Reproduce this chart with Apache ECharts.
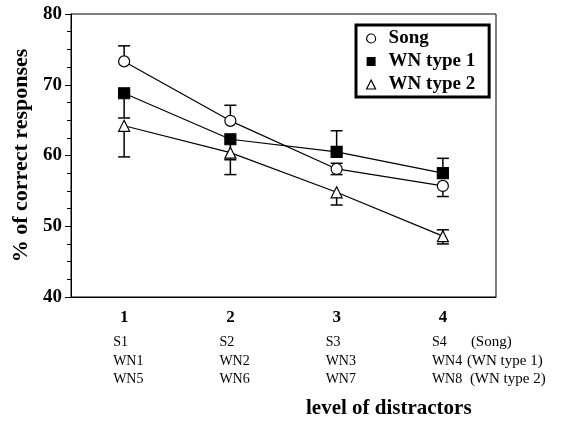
<!DOCTYPE html>
<html><head><meta charset="utf-8">
<script src="https://cdn.jsdelivr.net/npm/echarts@6/dist/echarts.min.js"></script>
<style>html,body{margin:0;padding:0;background:#fff}#c{width:566px;height:424px}</style>
</head><body><div id="c"></div>
<script>
const categories = ['1', '2', '3', '4'];
const subLabelsSong = ['S1', 'S2', 'S3', 'S4'];
const subLabelsWN1 = ['WN1', 'WN2', 'WN3', 'WN4'];
const subLabelsWN2 = ['WN5', 'WN6', 'WN7', 'WN8'];
const rowNotes = ['(Song)', '(WN type 1)', '(WN type 2)'];
const song = [73.3, 64.9, 58.1, 55.7];
const wn1 = [68.8, 62.3, 60.5, 57.5];
const wn2 = [64.2, 60.4, 54.8, 48.6];
const songErrUp = [2.2, 2.2, 0.8, 0];
const songErrDown = [0, 0, 0.8, 1.5];
const wn1ErrUp = [0, 0, 3.0, 2.1];
const wn1ErrDown = [3.5, 2.9, 0, 0];
const wn2ErrUp = [0, 0, 0, 0.9];
const wn2ErrDown = [4.4, 3.1, 1.8, 1.1];
const yTicks = [40, 50, 60, 70, 80];

const FONT = '"Liberation Serif", "Times New Roman", serif';

function errData(vals, up, down) {
  return vals.map((v, i) => [i, v - down[i], v + up[i]]);
}
function errSeries(vals, up, down) {
  return {
    type: 'custom', silent: true, z: 1,
    data: errData(vals, up, down),
    renderItem: function (params, api) {
      const x = api.value(0);
      const lo = api.coord([x, api.value(1)]);
      const hi = api.coord([x, api.value(2)]);
      const w = 6;
      const children = [];
      const style = { stroke: '#000', lineWidth: 1.5 };
      if (Math.abs(lo[1] - hi[1]) < 0.5) return { type: 'group', children: [] };
      children.push({ type: 'line', shape: { x1: lo[0], y1: lo[1], x2: hi[0], y2: hi[1] }, style });
      if (api.value(1) < vals[params.dataIndex] - 0.01)
        children.push({ type: 'line', shape: { x1: lo[0] - w, y1: lo[1], x2: lo[0] + w, y2: lo[1] }, style });
      if (api.value(2) > vals[params.dataIndex] + 0.01)
        children.push({ type: 'line', shape: { x1: hi[0] - w, y1: hi[1], x2: hi[0] + w, y2: hi[1] }, style });
      return { type: 'group', children };
    }
  };
}
function lineSeries(name, vals, symbol, fill, size) {
  return {
    name, type: 'line', data: vals, symbol, symbolSize: size, z: 3,
    showAllSymbol: true,
    lineStyle: { color: '#000', width: 1.2 },
    itemStyle: { color: fill, borderColor: '#000', borderWidth: 1.2 },
    emphasis: { disabled: true }, animation: false
  };
}

const chart = echarts.init(document.getElementById('c'), null, { renderer: 'canvas' });
chart.setOption({
  animation: false,
  grid: { left: 71, right: 70, top: 14, bottom: 127, show: true, borderColor: '#000', borderWidth: 1, backgroundColor: 'transparent' },
  xAxis: {
    type: 'category', data: categories, boundaryGap: true,
    axisLine: { lineStyle: { color: '#000', width: 1 } },
    axisTick: { alignWithLabel: true, length: 8, lineStyle: { color: '#000', width: 1 } },
    axisLabel: { color: '#000', fontFamily: FONT, fontWeight: 'bold', fontSize: 17, margin: 12 },
    splitLine: { show: false }
  },
  yAxis: {
    type: 'value', min: 40, max: 80, interval: 10,
    name: '% of correct responses', nameLocation: 'middle', nameGap: 34,
    nameTextStyle: { color: '#000', fontFamily: FONT, fontWeight: 'bold', fontSize: 22 },
    axisLine: { show: true, lineStyle: { color: '#000', width: 1 } },
    axisTick: { show: true, length: 6, lineStyle: { color: '#000', width: 1 } },
    minorTick: { show: true, splitNumber: 4, length: 4, lineStyle: { color: '#000', width: 1 } },
    axisLabel: { color: '#000', fontFamily: FONT, fontWeight: 'bold', fontSize: 19, margin: 9,
      formatter: v => yTicks.includes(v) ? String(v) : '' },
    splitLine: { show: false }
  },
  legend: {
    left: 356, top: 25, orient: 'vertical',
    padding: [4, 14, 3, 10], itemGap: 4, itemWidth: 9, itemHeight: 9,
    borderColor: '#000', borderWidth: 3, backgroundColor: '#fff',
    textStyle: { color: '#000', fontFamily: FONT, fontWeight: 'bold', fontSize: 19, padding: [0, 0, 0, 8] },
    data: [
      { name: 'Song', icon: 'circle', itemStyle: { color: '#fff', borderColor: '#000', borderWidth: 1.2 } },
      { name: 'WN type 1', icon: 'rect', itemStyle: { color: '#000', borderColor: '#000', borderWidth: 0 } },
      { name: 'WN type 2', icon: 'triangle', itemStyle: { color: '#fff', borderColor: '#000', borderWidth: 1.2 } }
    ]
  },
  series: [
    errSeries(song, songErrUp, songErrDown),
    errSeries(wn1, wn1ErrUp, wn1ErrDown),
    errSeries(wn2, wn2ErrUp, wn2ErrDown),
    lineSeries('Song', song, 'circle', '#fff', 11),
    lineSeries('WN type 1', wn1, 'rect', '#000', 11),
    lineSeries('WN type 2', wn2, 'triangle', '#fff', 11)
  ]
});

const rows = [subLabelsSong, subLabelsWN1, subLabelsWN2];
const rowY = [343, 362, 380];
const graphics = [];
rows.forEach((row, r) => {
  row.forEach((t, i) => {
    const px = chart.convertToPixel({ gridIndex: 0 }, [categories[i], 60])[0];
    graphics.push({ type: 'text', left: px - 11, top: rowY[r] - 8,
      style: { text: t, fill: '#000', font: '14px ' + FONT } });
  });
});
const lastX = chart.convertToPixel({ gridIndex: 0 }, [categories[3], 60])[0];
const noteOffsets = [28, 24, 27];
rowNotes.forEach((t, r) => {
  graphics.push({ type: 'text', left: lastX + noteOffsets[r], top: rowY[r] - 8,
    style: { text: t, fill: '#000', font: '15px ' + FONT } });
});
graphics.push({ type: 'text', left: 306, top: 398,
  style: { text: 'level of distractors', fill: '#000', font: 'bold 21px ' + FONT } });
chart.setOption({ graphic: graphics });
</script></body></html>
